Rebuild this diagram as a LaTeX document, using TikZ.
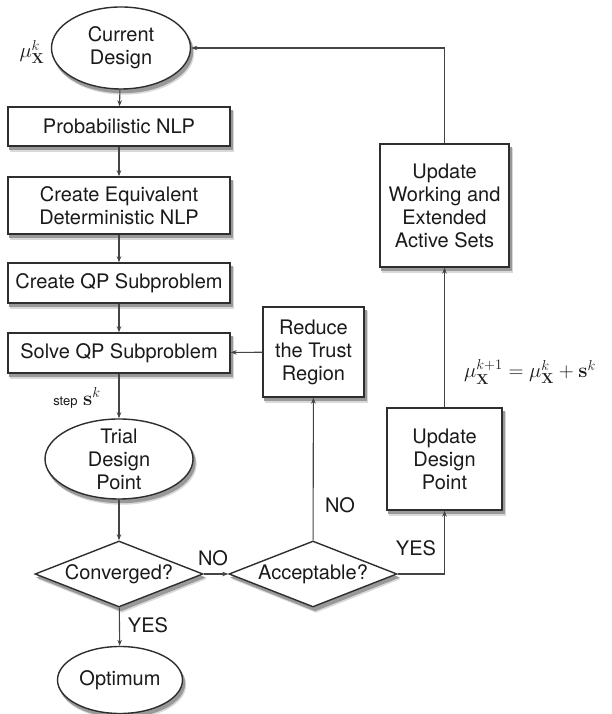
\documentclass[tikz,border=0pt]{standalone}
\usepackage{amsmath,amssymb}
\usepackage[no-math]{fontspec}
\setmainfont{TeX Gyre Heros}
\usepackage{tikz}
\usetikzlibrary{shapes.geometric,arrows.meta,calc}
\pgfdeclarelayer{background}
\pgfsetlayers{background,main}
\definecolor{edge}{HTML}{2E2E2E}
\definecolor{wire}{HTML}{444444}
\definecolor{ink}{HTML}{1A1A1A}

\begin{document}
\begin{tikzpicture}[x=1pt,y=1pt,
  box/.style={draw=edge,line width=1.4pt,fill=white,align=center,inner sep=0pt,text=ink,font=\fontsize{20}{23}\selectfont},
  oval/.style={box,ellipse},
  decide/.style={box,diamond,aspect=2.6,minimum width=168,minimum height=66},
  arr/.style={-{Stealth[length=6pt,width=4.5pt]},draw=wire,line width=1.1pt},
  tag/.style={text=ink,font=\fontsize{20}{23}\selectfont,inner sep=1pt}]
\useasboundingbox (0,0) rectangle (612,714);
% main column
\node[oval,minimum width=139,minimum height=82] (cur) at (121,666) {Current\\Design};
\foreach \n/\p/\w/\h/\t in {prob/{(119,587.5)}/222/39/{Probabilistic NLP},
    equiv/{(119,508.5)}/222/57/{Create Equivalent\\Deterministic NLP},
    cqp/{(119,431)}/222/40/{Create QP Subproblem},
    sqp/{(119,361)}/222/40/{Solve QP Subproblem},
    red/{(313.5,362)}/101/90/{Reduce\\the Trust\\Region},
    upw/{(444.5,508.5)}/129/123/{Update\\Working and\\Extended\\Active Sets},
    upd/{(444.5,255)}/115/102/{Update\\Design\\Point}}
  \node[box,minimum width=\w,minimum height=\h] (\n) at \p {\t};
\node[oval,inner sep=-7pt,minimum width=148,minimum height=80] (trial) at (119,255) {Trial\\Design\\Point};
\node[decide] (conv) at (119,140) {Converged?};
\node[decide] (acc) at (313,140) {Acceptable?};
\node[oval,minimum width=125,minimum height=67] (opt) at (120,34) {Optimum};
% shadows
\begin{pgfonlayer}{background}
\foreach \d/\c in {{(3,-5)}/15,{(2,-3.5)}/40}{
  \foreach \q in {prob,equiv,cqp,sqp,red,upw,upd}
    \fill[black!\c] ([shift=\d]\q.south west) rectangle ([shift=\d]\q.north east);
  \foreach \q in {cur,trial,opt}
    \fill[black!\c] let \p1=($(\q.east)-(\q.center)$), \p2=($(\q.north)-(\q.center)$) in
      ([shift=\d]\q.center) ellipse [x radius=\x1, y radius=\y2];
  \foreach \q in {conv,acc}
    \fill[black!\c] ([shift=\d]\q.north) -- ([shift=\d]\q.east) -- ([shift=\d]\q.south) -- ([shift=\d]\q.west) -- cycle;
}
\end{pgfonlayer}
% connectors
\foreach \a/\b in {cur/prob,prob/equiv,equiv/cqp,cqp/sqp,sqp/trial,trial/conv,conv/opt,conv/acc,acc/red,upd/upw}
  \draw[arr] (\a) -- (\b);
\draw[arr] (red) -- (sqp);
\draw[arr] (acc.east) -| (upd.south);
\draw[arr] (upw.north) |- (cur.east);
% labels
\node[tag] (mu) at (32,662) {$\mu_{\mathbf{X}}^{k}$};
\node[tag] (stp) at (77,316) {{\fontsize{13}{15}\selectfont step} $\mathbf{s}^{k}$};
\node[tag] (no1) at (213,156) {NO};
\node[tag] (yes1) at (148,89) {YES};
\node[tag] (no2) at (340,209) {NO};
\node[tag] (yes2) at (416,166) {YES};
\node[tag,font=\fontsize{22}{24}\selectfont] (upd eq) at (530,342) {$\mu_{\mathbf{X}}^{k+1}=\mu_{\mathbf{X}}^{k}+\mathbf{s}^{k}$};
\end{tikzpicture}
\end{document}
